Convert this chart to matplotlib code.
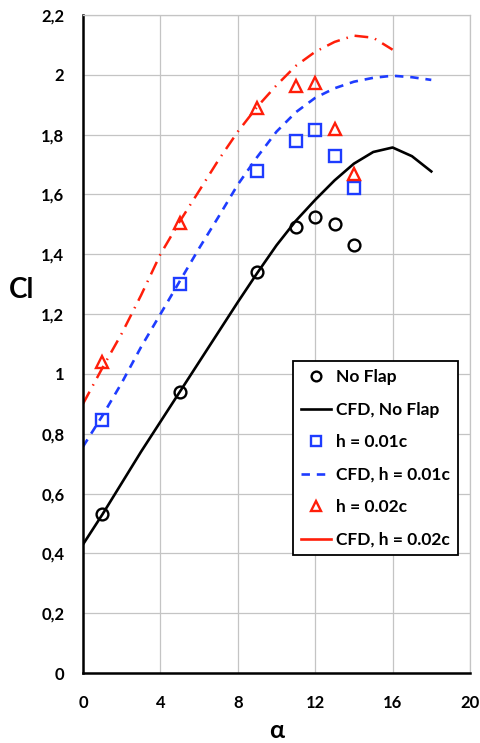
import matplotlib
matplotlib.use("Agg")
import matplotlib.pyplot as plt
from matplotlib.ticker import FuncFormatter, MultipleLocator
from matplotlib.lines import Line2D

plt.rcParams['font.family'] = ['Lato', 'DejaVu Sans']
plt.rcParams['font.weight'] = 'bold'

# --------------------------
# Données
# --------------------------
alpha_exp = [1, 5, 9, 11, 12, 13, 14]
cl_noflap = [0.53, 0.94, 1.34, 1.49, 1.523, 1.50, 1.43]
cl_h001 = [0.845, 1.30, 1.68, 1.78, 1.815, 1.728, 1.623]
cl_h002 = [1.04, 1.505, 1.89, 1.962, 1.974, 1.82, 1.668]

alpha_cfd = list(range(0, 19))
cfd_noflap = [0.43, 0.53, 0.635, 0.74, 0.84, 0.94, 1.04, 1.14, 1.24, 1.337,
              1.43, 1.512, 1.582, 1.647, 1.703, 1.742, 1.757, 1.728, 1.677]
cfd_h001 = [0.757, 0.86, 0.97, 1.09, 1.20, 1.31, 1.42, 1.525, 1.633, 1.725,
            1.81, 1.875, 1.923, 1.955, 1.977, 1.99, 1.997, 1.992, 1.983]
alpha_cfd2 = list(range(0, 17))
cfd_h002 = [0.90, 1.02, 1.135, 1.263, 1.40, 1.51, 1.612, 1.715, 1.81, 1.893,
            1.965, 2.03, 2.077, 2.11, 2.131, 2.124, 2.084]

red = '#ff1e0a'
blue = '#1e3cff'

fig = plt.figure(figsize=(4.81, 7.43), dpi=100)
ax = fig.add_axes([0.1726, 0.0942, 0.8045, 0.8856])

ax.plot(alpha_cfd, cfd_noflap, color='black', lw=1.9)
ax.plot(alpha_cfd, cfd_h001, color=blue, lw=1.9, linestyle=(0, (3.2, 2.6)))
ax.plot(alpha_cfd2, cfd_h002, color=red, lw=1.8, linestyle=(0, (5.5, 2.8, 0.6, 2.8)))

ax.plot(alpha_exp, cl_noflap, 'o', ms=8.5, mfc='none', mec='black', mew=1.7)
ax.plot(alpha_exp, cl_h001, 's', ms=8.5, mfc='none', mec=blue, mew=1.7)
ax.plot(alpha_exp, cl_h002, '^', ms=9, mfc='none', mec=red, mew=1.7)

ax.set_xlim(0, 20)
ax.set_ylim(0, 2.2)
ax.xaxis.set_major_locator(MultipleLocator(4))
ax.yaxis.set_major_locator(MultipleLocator(0.2))
virgule = FuncFormatter(lambda v, p: f"{v:.1f}".rstrip('0').rstrip('.').replace('.', ','))
ax.yaxis.set_major_formatter(virgule)
ax.xaxis.set_major_formatter(FuncFormatter(lambda v, p: f"{v:g}"))
ax.tick_params(length=0, labelsize=12)
ax.tick_params(axis='y', pad=13.5)
ax.tick_params(axis='x', pad=16)
for lab in ax.get_xticklabels() + ax.get_yticklabels():
    lab.set_fontweight('bold')

ax.grid(True, color='#c4c4c4', lw=0.9)
ax.set_axisbelow(True)
for s in ['top', 'right']:
    ax.spines[s].set_color('#c4c4c4')
    ax.spines[s].set_linewidth(0.9)
for s in ['left', 'bottom']:
    ax.spines[s].set_color('black')
    ax.spines[s].set_linewidth(1.8)

ax.set_ylabel('Cl', rotation=0, fontsize=20, fontweight='bold', va='center', ha='center')
ax.yaxis.set_label_coords(-0.16, 0.582)
ax.set_xlabel('α', fontsize=18, fontweight='bold', va='center')
ax.xaxis.set_label_coords(0.5, -0.087)

handles = [
    Line2D([], [], marker='o', ls='none', ms=7, mfc='none', mec='black', mew=1.7),
    Line2D([], [], color='black', lw=1.9),
    Line2D([], [], marker='s', ls='none', ms=7, mfc='none', mec=blue, mew=1.7),
    Line2D([], [], color=blue, lw=1.9, linestyle=(0, (3.2, 2.6))),
    Line2D([], [], marker='^', ls='none', ms=7.5, mfc='none', mec=red, mew=1.7),
    Line2D([], [], color=red, lw=1.9),
]
labels = ['No Flap', 'CFD, No Flap', 'h = 0.01c', 'CFD, h = 0.01c', 'h = 0.02c', 'CFD, h = 0.02c']
leg = fig.legend(handles, labels, loc='upper left', bbox_to_anchor=(0.592, 0.5253),
                 bbox_transform=fig.transFigure, prop={'weight': 'bold', 'size': 12.5},
                 frameon=True, fancybox=False, framealpha=1, edgecolor='black',
                 handlelength=1.7, handletextpad=0.3, borderpad=0.45, labelspacing=0.95)
leg.get_frame().set_linewidth(1.3)

fig.savefig('out.png', dpi=100)
